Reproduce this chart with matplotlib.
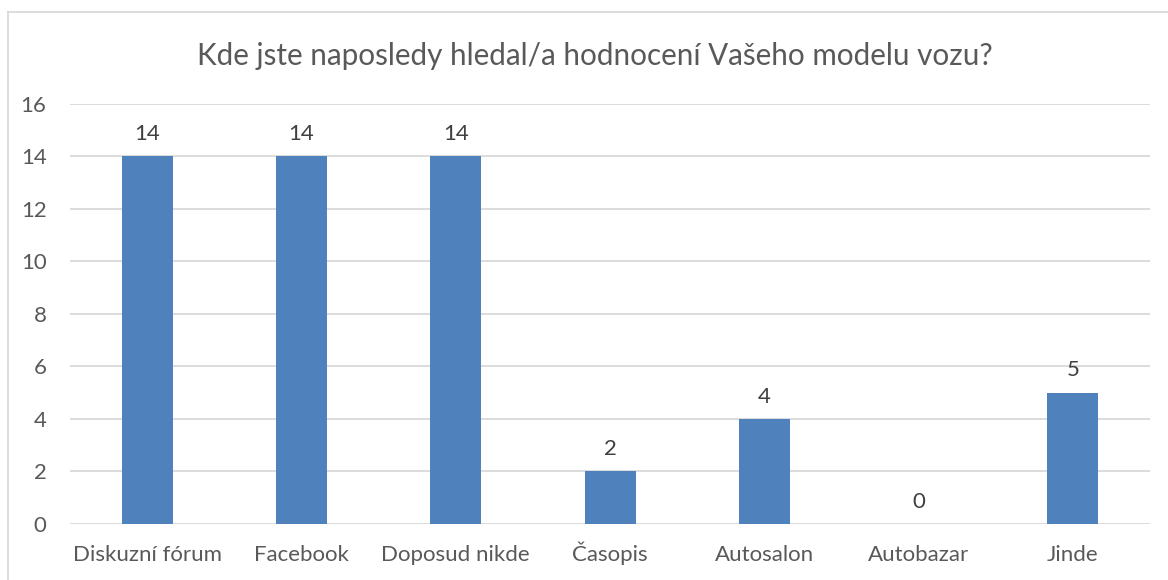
import matplotlib.pyplot as plt
from matplotlib.lines import Line2D

categories = ["Diskuzní fórum", "Facebook", "Doposud nikde", "Časopis",
              "Autosalon", "Autobazar", "Jinde"]
counts = [14, 14, 14, 2, 4, 0, 5]
yticks = [0, 2, 4, 6, 8, 10, 12, 14, 16]

plt.rcParams['font.family'] = ['Lato', 'DejaVu Sans']
txt = "#595959"

fig = plt.figure(figsize=(11.68, 5.8), dpi=100)
ax = fig.add_axes([0.060, 0.0966, 0.9246, 0.7241])

x = range(len(categories))
bars = ax.bar(x, counts, width=0.33, color="#4F81BD", zorder=3)
for xi, v in zip(x, counts):
    ax.text(xi, v + 0.85, str(v), ha="center", va="center", fontsize=16, color="#404040")

ax.set_xlim(-0.5, len(categories) - 0.5)
ax.set_ylim(0, 16)
ax.set_yticks(yticks)
ax.set_xticks(list(x))
ax.set_xticklabels(categories, va="baseline")
ax.tick_params(axis="both", length=0, labelsize=16, colors=txt)
ax.tick_params(axis="y", pad=17)
ax.tick_params(axis="x", pad=27)
ax.grid(axis="y", color="#D9D9D9", linewidth=1.3, zorder=0)
for s in ax.spines.values():
    s.set_visible(False)

fig.suptitle("Kde jste naposledy hledal/a hodnocení Vašeho modelu vozu?",
             x=0.509, y=0.927, fontsize=21.3, color=txt)

# chart border (left and top edges visible)
fig.add_artist(Line2D([0.0065, 0.0065], [0, 0.979], transform=fig.transFigure,
                      color="#D9D9D9", linewidth=1.3))
fig.add_artist(Line2D([0.0065, 1.0], [0.979, 0.979], transform=fig.transFigure,
                      color="#D9D9D9", linewidth=1.3))

fig.savefig("out.png", dpi=100)
